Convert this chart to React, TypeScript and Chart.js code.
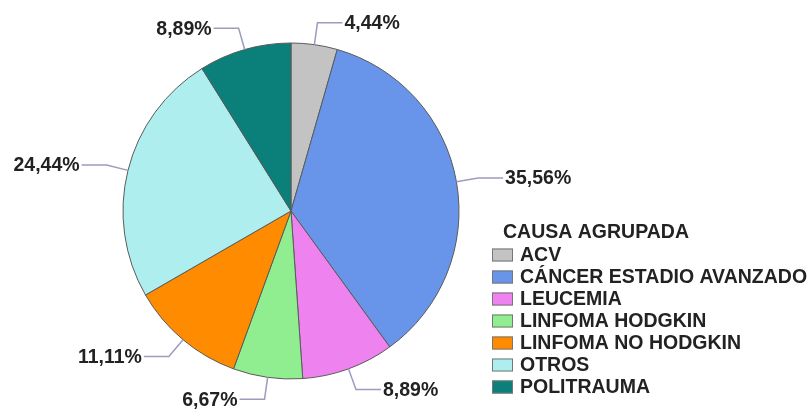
import React, { useEffect, useRef } from "react";
import { Chart, registerables } from "chart.js";

Chart.register(...registerables);

const categories = [
  "ACV",
  "CÁNCER ESTADIO AVANZADO",
  "LEUCEMIA",
  "LINFOMA HODGKIN",
  "LINFOMA NO HODGKIN",
  "OTROS",
  "POLITRAUMA",
];
const counts = [2, 16, 4, 3, 5, 11, 4];
const colors = ["#c3c3c3", "#6895ea", "#ee82ee", "#90ee90", "#ff8c00", "#afeeee", "#0b7f79"];
const legendTitle = "CAUSA AGRUPADA";

const FONT = "bold 19.5px 'Liberation Sans', Arial, sans-serif";

const labelsPlugin = {
  id: "pieLabels",
  afterDraw(chart: any) {
    const ctx = chart.ctx;
    const meta = chart.getDatasetMeta(0);
    const total = counts.reduce((a, b) => a + b, 0);
    ctx.save();
    ctx.font = FONT;
    ctx.textBaseline = "middle";
    meta.data.forEach((arc: any, i: number) => {
      const { x, y, startAngle, endAngle, outerRadius } = arc.getProps(
        ["x", "y", "startAngle", "endAngle", "outerRadius"],
        true
      );
      const mid = (startAngle + endAngle) / 2;
      const px = x + Math.cos(mid) * outerRadius;
      const py = y + Math.sin(mid) * outerRadius;
      const ex = x + Math.cos(mid) * (outerRadius + 22);
      const ey = y + Math.sin(mid) * (outerRadius + 22);
      const right = ex >= x;
      const hx = right ? ex + 25 : ex - 25;
      ctx.strokeStyle = "#9c9cbc";
      ctx.lineWidth = 1.5;
      ctx.beginPath();
      ctx.moveTo(px, py);
      ctx.lineTo(ex, ey);
      ctx.lineTo(hx, ey);
      ctx.stroke();
      const pct = ((counts[i] / total) * 100).toFixed(2).replace(".", ",") + "%";
      ctx.fillStyle = "#222222";
      ctx.textAlign = right ? "left" : "right";
      ctx.fillText(pct, right ? hx + 2 : hx - 2, ey + 1);
    });

    // legend
    ctx.textAlign = "left";
    ctx.fillStyle = "#222222";
    ctx.fillText(legendTitle, 503, 233);
    categories.forEach((c, i) => {
      const ry = 255 + i * 22;
      ctx.fillStyle = colors[i];
      ctx.fillRect(492, ry - 6.5, 21, 13);
      ctx.strokeStyle = "#777777";
      ctx.lineWidth = 1;
      ctx.strokeRect(492.5, ry - 6, 20, 12);
      ctx.fillStyle = "#222222";
      ctx.fillText(c, 520, ry + 1);
    });
    ctx.restore();
  },
};

export default function App() {
  const ref = useRef<HTMLCanvasElement>(null);
  useEffect(() => {
    if (!ref.current) return;
    const chart = new Chart(ref.current, {
      type: "pie",
      data: {
        labels: categories,
        datasets: [
          {
            data: counts,
            backgroundColor: colors,
            borderColor: "#5a5a5a",
            borderWidth: 1,
          },
        ],
      },
      options: {
        responsive: false,
        animation: false,
        radius: 168,
        layout: { padding: { left: 123, top: 43, right: 352, bottom: 33 } },
        plugins: {
          legend: { display: false },
          tooltip: { enabled: false },
        },
      },
      plugins: [labelsPlugin],
    });
    return () => chart.destroy();
  }, []);
  return (
    <div style={{ position: "fixed", left: 0, top: 0, width: 811, height: 412, background: "#fff" }}>
      <canvas ref={ref} width={811} height={412} style={{ width: 811, height: 412 }} />
    </div>
  );
}
